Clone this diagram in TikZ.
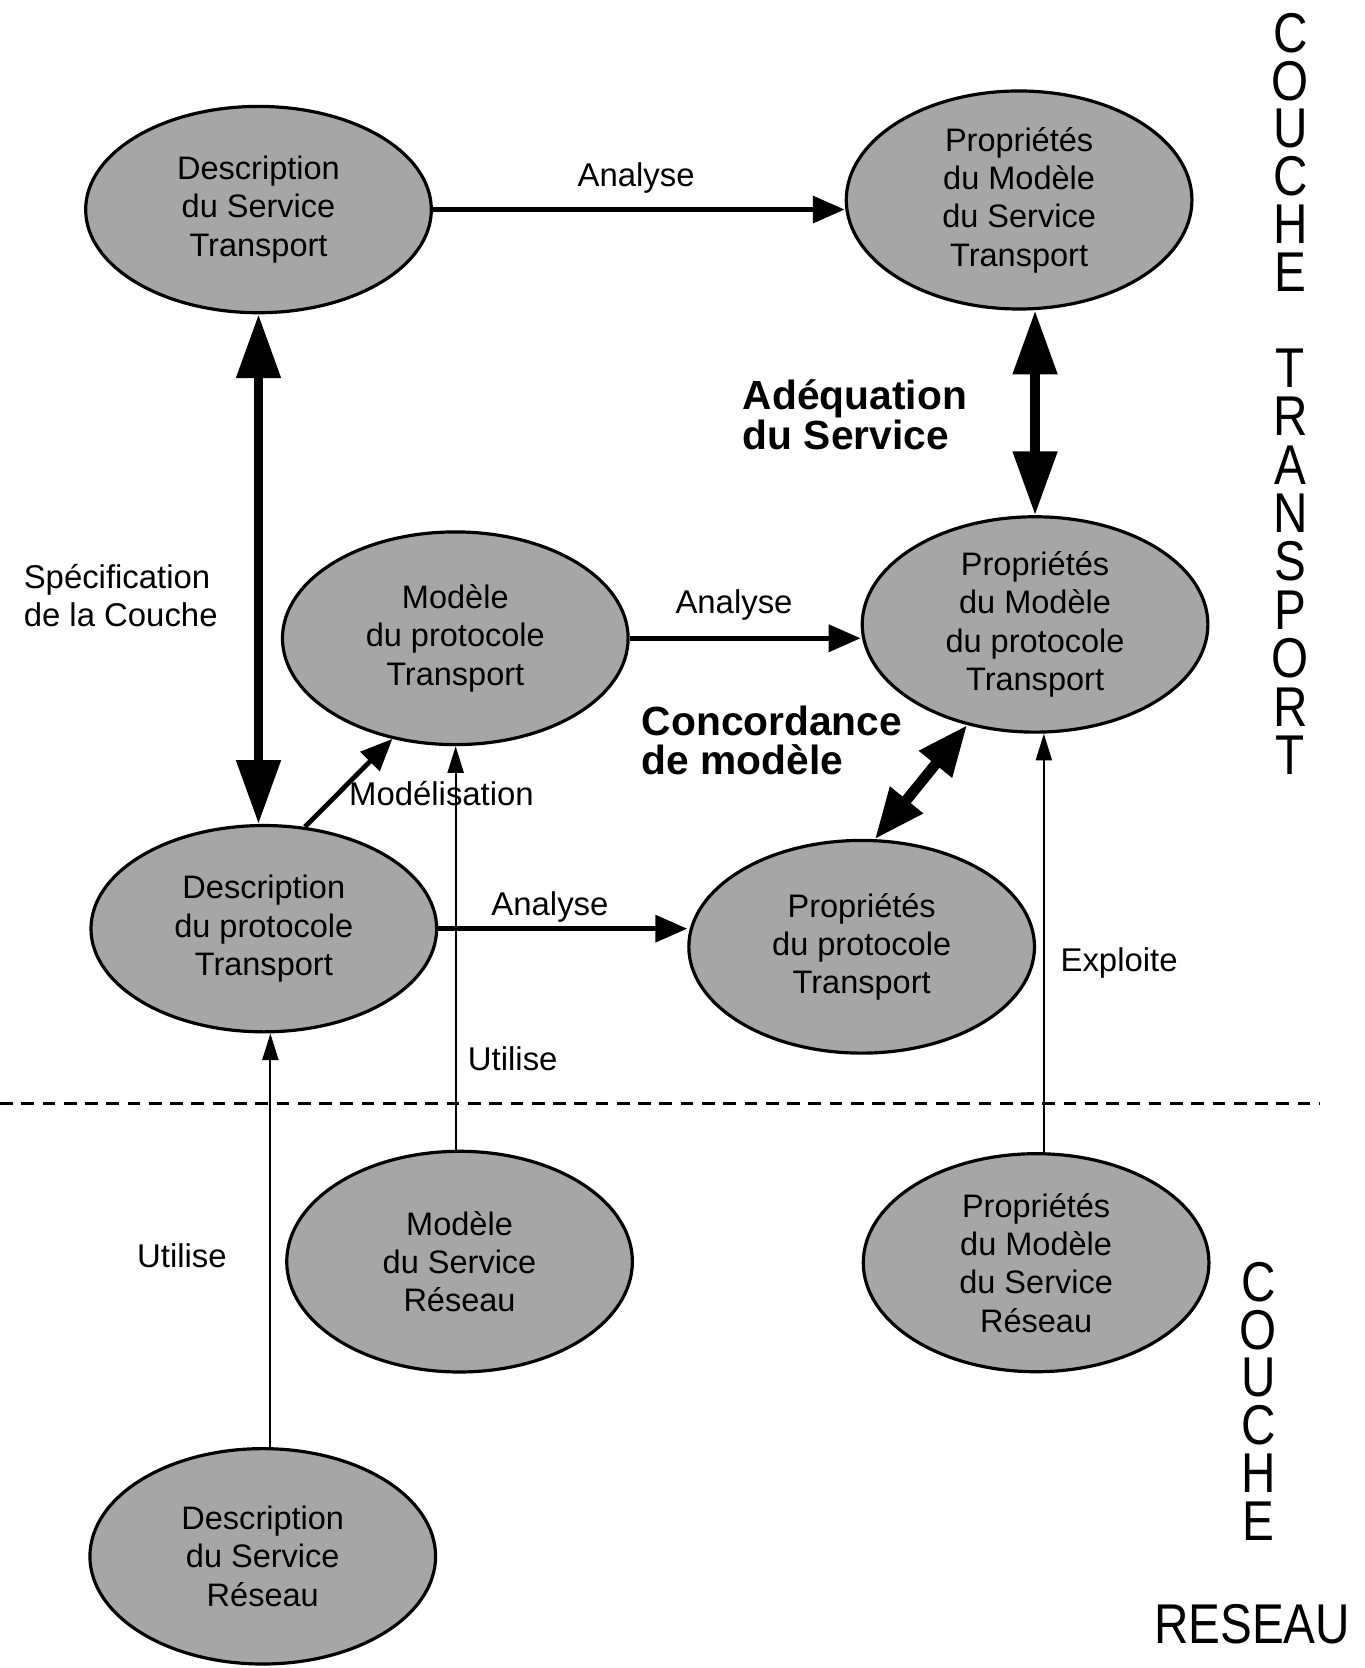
\documentclass[tikz,border=0pt]{standalone}
\usepackage{fontspec}
\setmainfont{Liberation Sans}
\newfontfamily\etroite[FakeStretch=0.85]{Liberation Sans}
\usetikzlibrary{shapes.geometric, arrows.meta, positioning}

\begin{document}
\begin{tikzpicture}[x=0.02cm, y=-0.02cm,
  bulle/.style={ellipse, draw, line width=0.06cm, fill=black!35, minimum width=6.5cm, minimum height=4cm, inner sep=0pt, align=center, font=\fontsize{17.4}{20.5}\selectfont},
  lbl/.style={inner sep=0pt, align=left, font=\fontsize{17.6}{20}\selectfont},
  lblgras/.style={inner sep=0pt, align=left, font=\fontsize{21.8}{21}\selectfont\bfseries},
  couche/.style={inner sep=0pt, font=\etroite\fontsize{30}{30}\selectfont},
  fleche/.style={line width=0.09cm, -{Triangle[length=0.6cm, width=0.5cm]}},
  mince/.style={line width=0.04cm, -{Triangle[length=0.5cm, width=0.3cm]}},
  epaisse/.style={line width=0.18cm, {Triangle[length=1.2cm, width=0.8cm]}-{Triangle[length=1.2cm, width=0.8cm]}},
  moyenne/.style={line width=0.2cm, {Triangle[length=0.95cm, width=0.75cm]}-{Triangle[length=0.95cm, width=0.75cm]}}]
\useasboundingbox (0,0) rectangle (1283,1568);
	% couche transport
\node [bulle, minimum height=3.88cm] (n1) at (243,197) {Description\\du Service\\Transport};
\node [bulle, minimum height=4.1cm] (n2) at (958,188) {Propriétés\\du Modèle\\du Service\\Transport};
\node [bulle] (n3) at (428,600) {Modèle\\du protocole\\Transport};
\node [bulle, minimum height=4.05cm] (n4) at (973,587) {Propriétés\\du Modèle\\du protocole\\Transport};
\node [bulle, minimum height=3.88cm] (n5) at (248,873) {Description\\du protocole\\Transport};
\node [bulle] (n6) at (810,890) {Propriétés\\du protocole\\Transport};
	% couche reseau
\node [bulle, minimum height=4.15cm] (n7) at (432,1186) {Modèle\\du Service\\Réseau};
\node [bulle, minimum height=4.1cm] (n8) at (974,1187) {Propriétés\\du Modèle\\du Service\\Réseau};
\node [bulle, minimum height=4.05cm] (n9) at (247,1463) {Description\\du Service\\Réseau};

\node [lbl] (a1) at (598,167) {Analyse};
\node [lblgras, anchor=west] (a2) at (698,390) {Adéquation\\du Service};
\node [lbl, anchor=west] (a3) at (22,560) {Spécification\\de la Couche};
\node [lbl] (a4) at (690,569) {Analyse};
\node [lblgras, anchor=west] (a5) at (603,696) {Concordance\\de modèle};
\node [lbl] (a6) at (415,746) {Modélisation};
\node [lbl] (a7) at (517,853) {Analyse};
\node [lbl] (a8) at (1052,905) {Exploite};
\node [lbl] (a9) at (482,995) {Utilise};
\node [lbl] (a10) at (171,1180) {Utilise};

	% lettres verticales
\foreach \l [count=\i] in {C,O,U,C,H,E}
  \node [couche] (ct\i) at (1213,{31+45*(\i-1)}) {\l};
\foreach \l [count=\i] in {T,R,A,N,S,P,O,R,T}
  \node [couche] (tr\i) at (1213,{346+45.5*(\i-1)}) {\l};
\foreach \l [count=\i] in {C,O,U,C,H,E}
  \node [couche] (cr\i) at (1183,{1205+45*(\i-1)}) {\l};
\node [couche] (re) at (1177,1527) {RESEAU};

\draw [fleche] (n1) -- (n1 -| n2.west);
\draw [epaisse] (n4.north) -- (n4.north |- n2.south);
\draw [epaisse] (n1.south) -- (n1.south |- n5.north);
\draw [fleche] (n3) -- (n3 -| n4.west);
\draw [fleche] (n5.68) -- (n3.238);
\draw [fleche] (n5) -- (n5 -| n6.west);
\draw [moyenne] (n6.83) -- (n4.236);
\draw [mince] (n7.92) -- (n7.92 |- n3.south);
\draw [mince] (n9.86) -- (n9.86 |- n5.south);
\draw [mince] (n8.86) -- (n8.86 |- n4.south);

\coordinate (g) at (0,1037);
\coordinate (d) at (1240,1037);
\draw [line width=0.06cm, dash pattern=on 0.24cm off 0.16cm] (g) -- (d);
\end{tikzpicture}
\end{document}
